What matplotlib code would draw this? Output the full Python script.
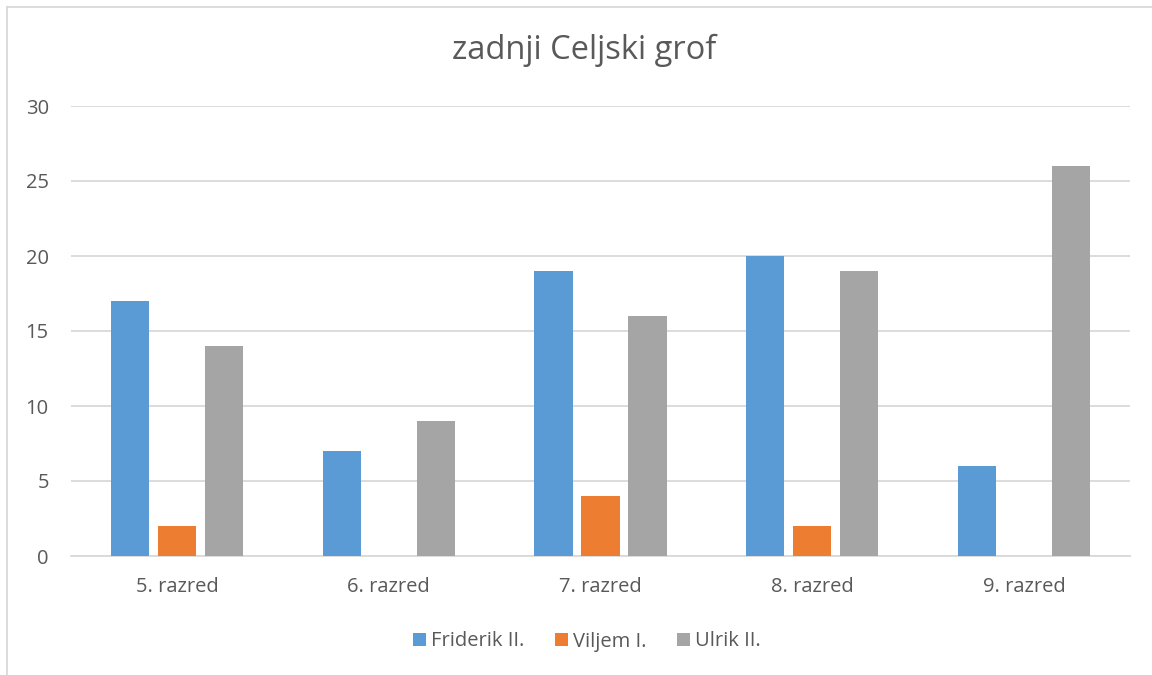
import matplotlib.pyplot as plt
import numpy as np
from matplotlib.lines import Line2D

categories = ["5. razred", "6. razred", "7. razred", "8. razred", "9. razred"]
series_names = ["Friderik II.", "Viljem I.", "Ulrik II."]
friderik = [17, 7, 19, 20, 6]
viljem = [2, 0, 4, 2, 0]
ulrik = [14, 9, 16, 19, 26]
colors = ["#5B9BD5", "#ED7D31", "#A5A5A5"]
yticks = [0, 5, 10, 15, 20, 25, 30]

plt.rcParams['font.family'] = ['Open Sans', 'DejaVu Sans']
text_color = "#595959"

fig = plt.figure(figsize=(11.52, 6.75), dpi=100)
ax = fig.add_axes([71 / 1152, 1 - 556 / 675, (1130 - 71) / 1152, (556 - 106) / 675])

x = np.arange(len(categories))
width = 0.18
step = 0.222
for i, (vals, name, c) in enumerate(zip([friderik, viljem, ulrik], series_names, colors)):
    ax.bar(x + (i - 1) * step, vals, width, color=c, label=name, zorder=3)

ax.set_xlim(-0.5, len(categories) - 0.5)
ax.set_ylim(0, 30)
ax.set_yticks(yticks)
ax.set_xticks(x)
ax.set_xticklabels(categories)
ax.grid(axis='y', color="#D9D9D9", linewidth=1.3, zorder=0)
for s in ["top", "right", "left"]:
    ax.spines[s].set_visible(False)
ax.spines["bottom"].set_color("#D9D9D9")
ax.spines["bottom"].set_linewidth(1.3)
ax.tick_params(axis='both', length=0, labelsize=14.5, colors=text_color)
ax.tick_params(axis='y', pad=16)
ax.tick_params(axis='x', pad=15)

fig.text(0.507, 1 - 50 / 675, "zadnji Celjski grof", ha='center', va='center',
         fontsize=23.5, color=text_color)

ax.legend(loc='center', bbox_to_anchor=(0.487, -0.19), ncol=3, frameon=False,
          fontsize=14.5, labelcolor=text_color, handlelength=0.65, handleheight=0.65,
          handletextpad=0.25, columnspacing=1.5)

# chart border (cropped)
fig.add_artist(Line2D([7 / 1152, 7 / 1152], [0, 1 - 7 / 675], transform=fig.transFigure,
                      color="#D9D9D9", linewidth=1.3))
fig.add_artist(Line2D([7 / 1152, 1], [1 - 7 / 675, 1 - 7 / 675], transform=fig.transFigure,
                      color="#D9D9D9", linewidth=1.3))

fig.savefig("out.png", dpi=100)
